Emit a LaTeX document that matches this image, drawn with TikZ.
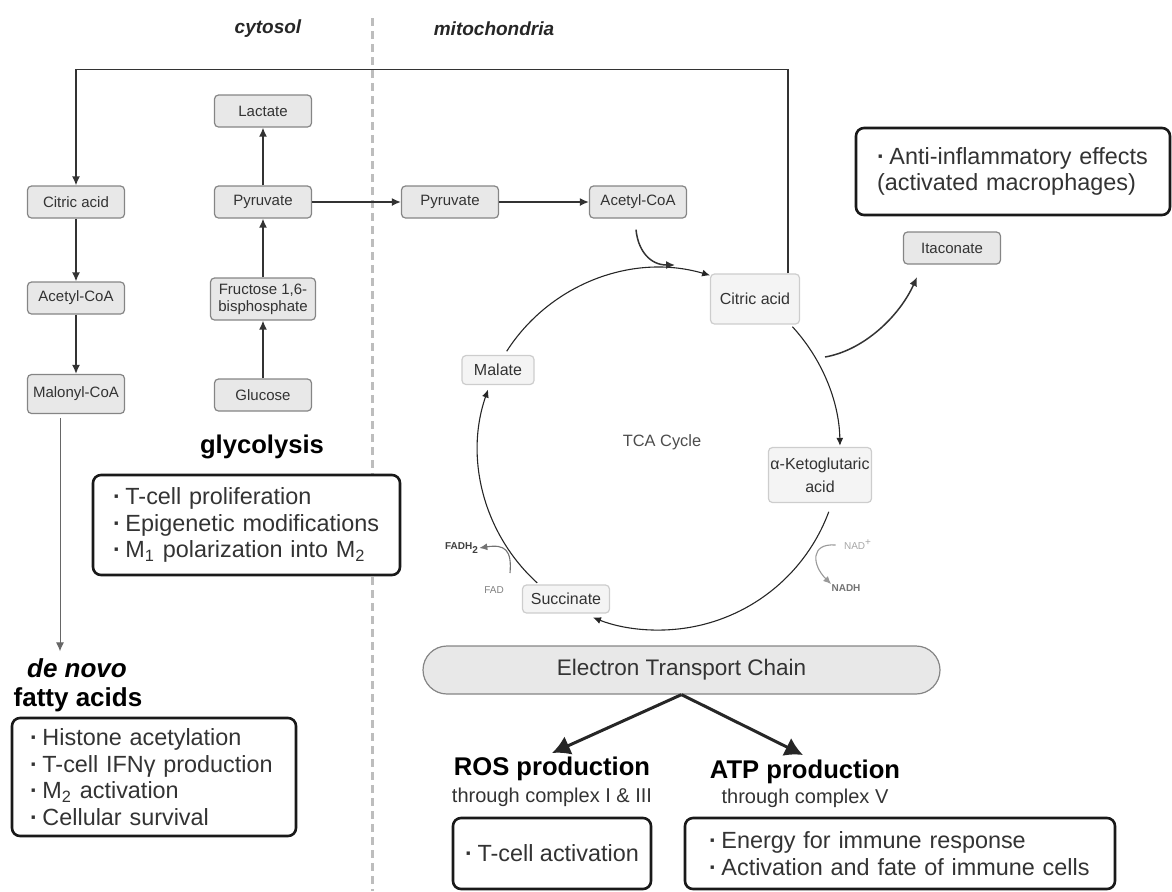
\documentclass[tikz,border=0pt]{standalone}
\usepackage{fontspec}
\setmainfont{Liberation Sans}
\usetikzlibrary{arrows.meta}
\definecolor{boxfill}{HTML}{E8E8E8}
\definecolor{boxline}{HTML}{858585}
\definecolor{cycfill}{HTML}{F4F4F4}
\definecolor{cycline}{HTML}{CDCDCD}
\definecolor{ink}{HTML}{333333}
\definecolor{dashgray}{HTML}{BDBDBD}
\newcommand{\bul}{\textbf{·}\hspace{0.2em}}
\begin{document}
\begin{tikzpicture}[x=0.5pt,y=-0.5pt,
    met/.style={draw=boxline,fill=boxfill,rounded corners=2pt,line width=0.6pt,
        minimum width=48.5pt,minimum height=16pt,inner sep=1pt,align=center,
        text=ink,font=\fontsize{7.5}{8.5}\selectfont},
    cyc/.style={met,draw=cycline,fill=cycfill,font=\fontsize{8}{11.5}\selectfont},
    note/.style={draw=black!90,line width=1.3pt,rounded corners=4pt,fill=white,
        align=left,text=ink,font=\fontsize{11.7}{13.25}\selectfont},
    arr/.style={draw=ink,line width=0.75pt,-{Latex[length=4.5pt,width=4pt]}},
    cycarr/.style={draw=black!85,line width=0.55pt,-{Latex[length=4pt,width=3.5pt]}},
    big/.style={draw=black!85,line width=1.5pt,-{Latex[length=9pt,width=10pt]}},
    head/.style={font=\bfseries\fontsize{12.8}{14}\selectfont},
    sub/.style={text=ink,font=\fontsize{10}{12}\selectfont},
    place/.style={font=\bfseries\itshape\fontsize{9.5}{11}\selectfont,text=black!85},
    tiny/.style={inner sep=0pt,font=\fontsize{5}{6}\selectfont}]
    \useasboundingbox (0,0) rectangle (1172,891);
    % compartments
    \draw[dashgray,line width=1.5pt,dash pattern=on 4pt off 2.5pt] (372,18) -- (372,891);
    \node[place] (cyto) at (268,29) {cytosol};
    \node[place] (mito) at (494,29) {mitochondria};
    % cytosol
    \node[met] (citL) at (76,202) {Citric acid};
    \node[met] (acL) at (76,298) {Acetyl-CoA};
    \node[met,minimum height=19.5pt] (malo) at (76,394) {Malonyl-CoA};
    \node[met] (lac) at (263,111) {Lactate};
    \node[met] (pyrL) at (263,202) {Pyruvate};
    \node[met,minimum width=52.5pt,minimum height=21pt] (fru) at (263,299) {Fructose 1,6-\\bisphosphate};
    \node[met] (glu) at (263,395) {Glucose};
    \draw[arr] (citL) -- (acL);
    \draw[arr] (acL) -- (malo);
    \draw[arr] (glu) -- (fru);
    \draw[arr] (fru) -- (pyrL);
    \draw[arr] (pyrL) -- (lac);
    % mitochondria
    \node[met] (pyrM) at (450,202) {Pyruvate};
    \node[met] (acM) at (638,202) {Acetyl-CoA};
    \node[met] (ita) at (952,248) {Itaconate};
    \node[cyc,minimum width=44.5pt,minimum height=25pt] (citM) at (755,299) {Citric acid};
    \node[cyc,minimum width=36pt,minimum height=14.5pt] (mal) at (498,370) {Malate};
    \node[cyc,minimum width=50.5pt,minimum height=27.5pt] (akg) at (820,475) {α-Ketoglutaric\\acid};
    \node[cyc,minimum width=43.5pt,minimum height=14pt] (suc) at (566,599) {Succinate};
    \node[text=black!70,font=\fontsize{8.2}{10}\selectfont] (tcaTxt) at (662,442) {TCA Cycle};
    \draw[arr] (pyrL) -- (pyrM);
    \draw[arr] (pyrM) -- (acM);
    \draw[arr] ([xshift=16.5pt]citM.north) -- ++(0,-204) -| (citL.north);
    % TCA cycle
    \coordinate (tca) at (659,449);
    \draw[cycarr] ([shift={(-147.3:181)}]tca) arc[start angle=-147.3,end angle=-73.6,radius=181];
    \draw[cycarr] ([shift={(-42.5:181)}]tca) arc[start angle=-42.5,end angle=-1,radius=181];
    \draw[cycarr] ([shift={(20.3:181)}]tca) arc[start angle=20.3,end angle=111.4,radius=181];
    \draw[cycarr] ([shift={(132.3:181)}]tca) arc[start angle=132.3,end angle=199.2,radius=181];
    \coordinate (acIn) at (675,265);
    \draw[arr] (acM.south) ++(-2,11) .. controls +(2,21) and +(-25,0) .. (acIn);
    \coordinate (itaFrom) at (825,357);
    \coordinate (itaTo) at (917,277);
    \draw[arr,draw=black!80] (itaFrom) .. controls (865,350) and (900,315) .. (itaTo);
    \node[tiny,text=black!75,font=\bfseries\fontsize{5}{6}\selectfont] (fadh) at (462,548) {FADH\textsubscript{2}};
    \node[tiny,text=black!50] (fad) at (494,590) {FAD};
    \node[tiny,text=black!35] (nadp) at (858,545) {NAD\textsuperscript{+}};
    \node[tiny,text=black!55,font=\bfseries\fontsize{5}{6}\selectfont] (nadh) at (846,588) {NADH};
    \draw[cycarr,draw=black!55] (fad) ++(16,-17) .. controls (512,550) and (505,544) .. (fadh.east);
    \draw[cycarr,draw=black!40] ([xshift=-4pt]nadp.west) .. controls (810,543) and (812,565) .. (nadh.north west);
    \node[note,minimum width=157pt,minimum height=43.5pt,text width=136pt,inner xsep=10.5pt] (anti) at (1013,171.5)
        {\bul Anti-inflammatory effects\\(activated macrophages)};
    % glycolysis
    \node[head] (glyH) at (262,447) {glycolysis};
    \node[note,minimum width=153.5pt,minimum height=50pt,text width=133.5pt,inner xsep=10pt] (glyBox) at (246.5,525)
        {\bul T-cell proliferation\\\bul Epigenetic modifications\\\bul M\textsubscript{1} polarization into M\textsubscript{2}};
    % fatty acids
    \node[head,font=\bfseries\itshape\fontsize{13}{14}\selectfont] (denovo) at (77,668) {de novo};
    \node[head,font=\bfseries\fontsize{13}{14}\selectfont] (fatty) at (78,700) {fatty acids};
    \draw[arr,draw=black!60,line width=0.5pt] ([xshift=-8pt]malo.south) ++(0,4) -- ([xshift=-8.5pt]denovo.north);
    \node[note,minimum width=142pt,minimum height=59pt,text width=124pt,inner xsep=9pt] (fatBox) at (154,777)
        {\bul Histone acetylation\\\bul T-cell IFNγ production\\\bul M\textsubscript{2} activation\\\bul Cellular survival};
    % electron transport chain
    \node[draw=boxline,fill=boxfill,line width=0.6pt,rounded corners=12pt,minimum width=258.5pt,minimum height=24pt,
        text=ink,font=\fontsize{11.25}{13}\selectfont] (etc) at (681.5,670) {Electron Transport Chain};
    \coordinate (rosTip) at (552,753);
    \coordinate (atpTip) at (803,755);
    \draw[big] (etc.south) -- (rosTip);
    \draw[big] (etc.south) -- (atpTip);
    \node[head] (rosH) at (552,769) {ROS production};
    \node[sub] (rosSub) at (552,797) {through complex I \& III};
    \node[head] (atpH) at (805,772) {ATP production};
    \node[sub] (atpSub) at (805,798) {through complex V};
    \node[note,minimum width=99pt,minimum height=35.5pt,align=center] (rosBox) at (552,853.5) {\bul T-cell activation};
    \node[note,minimum width=215pt,minimum height=35.5pt,text width=191pt,inner xsep=12pt] (atpBox) at (900,853.5)
        {\bul Energy for immune response\\\bul Activation and fate of immune cells};
\end{tikzpicture}
\end{document}
